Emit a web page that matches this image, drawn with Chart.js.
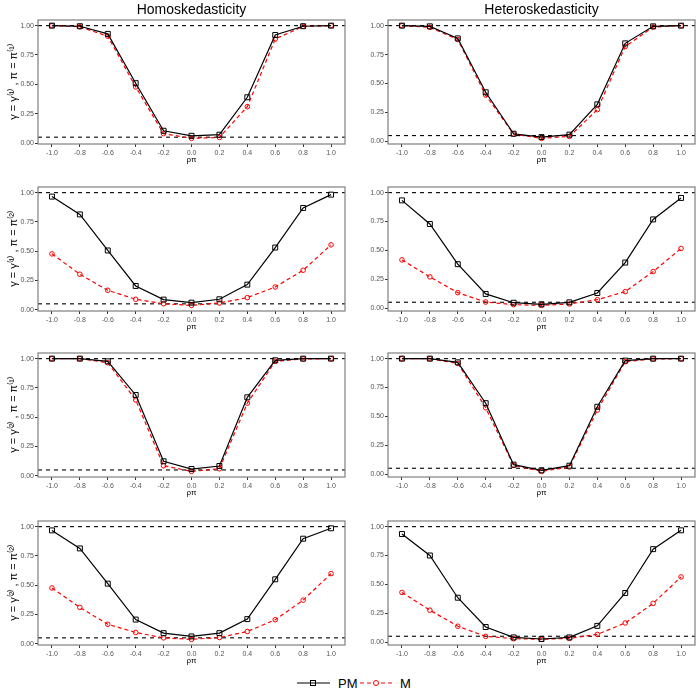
<!DOCTYPE html>
<html>
<head>
<meta charset="utf-8">
<script src="https://cdn.jsdelivr.net/npm/chart.js@4.4.0/dist/chart.umd.min.js"></script>
<style>
  body { margin: 0; background: #fff; }
  #wrap { position: relative; width: 700px; height: 700px; font-family: "Liberation Sans", Arial, sans-serif; }
  #wrap canvas { position: absolute; }
  #legend { position: absolute; left: 290px; top: 671px; }
</style>
</head>
<body>
<div id="wrap">
  <svg id="legend" width="130" height="24">
    <line x1="7" y1="12" x2="40" y2="12" stroke="#000" stroke-width="1.2"/>
    <rect x="20.5" y="9.5" width="5" height="5" fill="none" stroke="#000" stroke-width="1"/>
    <text x="48" y="17" font-size="13" font-family="Liberation Sans, Arial, sans-serif">PM</text>
    <line x1="70" y1="12" x2="102" y2="12" stroke="#ff0000" stroke-width="1.2" stroke-dasharray="4,3"/>
    <circle cx="86" cy="12" r="2.5" fill="#fff" stroke="#ff0000" stroke-width="1"/>
    <text x="110" y="17" font-size="13" font-family="Liberation Sans, Arial, sans-serif">M</text>
  </svg>
</div>
<script>
const rho = [-1.0, -0.8, -0.6, -0.4, -0.2, 0.0, 0.2, 0.4, 0.6, 0.8, 1.0];
const xTicks = [-1.0, -0.8, -0.6, -0.4, -0.2, 0.0, 0.2, 0.4, 0.6, 0.8, 1.0];
const yTicks = [0, 0.25, 0.5, 0.75, 1.0];
const refLines = [0.05, 1.0];

const columnTitles = ['Homoskedasticity', 'Heteroskedasticity'];
const rowLabels = [
  'γ = γ⁽¹⁾ , π = π⁽¹⁾',
  'γ = γ⁽¹⁾ , π = π⁽²⁾',
  'γ = γ⁽²⁾ , π = π⁽¹⁾',
  'γ = γ⁽²⁾ , π = π⁽²⁾'
];

// gamma(1), pi(1)
const pmHomo11 = [1.00, 0.995, 0.93, 0.51, 0.105, 0.062, 0.071, 0.39, 0.92, 0.995, 1.00];
const mHomo11  = [1.00, 0.99, 0.91, 0.478, 0.08, 0.04, 0.048, 0.31, 0.886, 0.994, 1.00];
const pmHet11  = [1.00, 0.994, 0.89, 0.424, 0.066, 0.037, 0.058, 0.32, 0.847, 0.994, 1.00];
const mHet11   = [1.00, 0.985, 0.88, 0.40, 0.063, 0.026, 0.043, 0.274, 0.82, 0.988, 1.00];
// gamma(1), pi(2)
const pmHomo12 = [0.966, 0.814, 0.506, 0.203, 0.086, 0.06, 0.089, 0.214, 0.531, 0.869, 0.983];
const mHomo12  = [0.477, 0.303, 0.166, 0.089, 0.051, 0.037, 0.057, 0.103, 0.194, 0.337, 0.554];
const pmHet12  = [0.933, 0.728, 0.38, 0.122, 0.046, 0.032, 0.049, 0.13, 0.394, 0.768, 0.954];
const mHet12   = [0.417, 0.27, 0.133, 0.052, 0.029, 0.023, 0.035, 0.072, 0.142, 0.316, 0.516];
// gamma(2), pi(1)
const pmHomo21 = [1.00, 1.00, 0.977, 0.69, 0.124, 0.058, 0.084, 0.67, 0.986, 1.00, 1.00];
const mHomo21  = [1.00, 1.00, 0.965, 0.648, 0.086, 0.038, 0.06, 0.62, 0.977, 0.997, 1.00];
const pmHet21  = [1.00, 1.00, 0.968, 0.614, 0.081, 0.032, 0.072, 0.583, 0.983, 1.00, 1.00];
const mHet21   = [1.00, 0.999, 0.959, 0.574, 0.075, 0.023, 0.061, 0.554, 0.974, 0.997, 1.00];
// gamma(2), pi(2)
const pmHomo22 = [0.968, 0.814, 0.513, 0.206, 0.09, 0.062, 0.09, 0.21, 0.55, 0.897, 0.986];
const mHomo22  = [0.476, 0.31, 0.166, 0.096, 0.05, 0.037, 0.053, 0.104, 0.205, 0.372, 0.599];
const pmHet22  = [0.936, 0.75, 0.384, 0.13, 0.04, 0.026, 0.04, 0.14, 0.425, 0.805, 0.968];
const mHet22   = [0.43, 0.276, 0.137, 0.049, 0.029, 0.023, 0.032, 0.066, 0.165, 0.335, 0.564];

const panels = [
  [pmHomo11, mHomo11], [pmHet11, mHet11],
  [pmHomo12, mHomo12], [pmHet12, mHet12],
  [pmHomo21, mHomo21], [pmHet21, mHet21],
  [pmHomo22, mHomo22], [pmHet22, mHet22]
];

const FONT = '"Liberation Sans", Arial, sans-serif';
const plotTops = [20, 187, 353, 521];

const panelFrame = {
  id: 'panelFrame',
  beforeDatasetsDraw(chart) {
    const { ctx, chartArea: a, scales: { y } } = chart;
    ctx.save();
    ctx.strokeStyle = '#000';
    ctx.lineWidth = 1.1;
    ctx.setLineDash([4, 4]);
    refLines.forEach(v => {
      const py = y.getPixelForValue(v);
      ctx.beginPath();
      ctx.moveTo(a.left, py);
      ctx.lineTo(a.right, py);
      ctx.stroke();
    });
    ctx.restore();
  },
  afterDraw(chart) {
    const { ctx, chartArea: a } = chart;
    ctx.save();
    ctx.strokeStyle = '#7f7f7f';
    ctx.lineWidth = 1.2;
    ctx.strokeRect(a.left, a.top, a.right - a.left, a.bottom - a.top);
    ctx.restore();
  }
};

const wrap = document.getElementById('wrap');

panels.forEach((pair, i) => {
  const row = Math.floor(i / 2), col = i % 2;
  const canvas = document.createElement('canvas');
  canvas.width = 350;
  canvas.height = 167;
  canvas.style.left = (col * 350) + 'px';
  canvas.style.top = (plotTops[row] - 20) + 'px';
  wrap.appendChild(canvas);

  const [pm, m] = pair;
  const lo = Math.min(...pm, ...m, 0.05);
  const hi = Math.max(...pm, ...m, 1.0);
  const span = hi - lo;

  new Chart(canvas.getContext('2d'), {
    type: 'line',
    data: {
      datasets: [
        {
          label: 'PM',
          data: rho.map((x, k) => ({ x, y: pm[k] })),
          borderColor: '#000',
          borderWidth: 1.2,
          pointStyle: 'rect',
          pointRadius: 3.5,
          pointBorderWidth: 1,
          pointBackgroundColor: 'rgba(0,0,0,0)',
          pointBorderColor: '#000',
          tension: 0
        },
        {
          label: 'M',
          data: rho.map((x, k) => ({ x, y: m[k] })),
          borderColor: '#ff0000',
          borderWidth: 1.2,
          borderDash: [4, 3],
          pointStyle: 'circle',
          pointRadius: 2.3,
          pointBorderWidth: 1,
          pointBackgroundColor: 'rgba(0,0,0,0)',
          pointBorderColor: '#ff0000',
          tension: 0
        }
      ]
    },
    options: {
      responsive: false,
      animation: false,
      layout: { padding: { top: row === 0 ? 0 : 20, right: 5, left: 0, bottom: 0 } },
      scales: {
        x: {
          type: 'linear',
          min: -1.1,
          max: 1.1,
          afterBuildTicks: s => { s.ticks = xTicks.map(v => ({ value: v })); },
          afterFit: s => { s.height = 23; },
          grid: { drawOnChartArea: false, drawTicks: true, tickLength: 3, color: '#333' },
          border: { display: false },
          ticks: {
            padding: 2,
            maxRotation: 0,
            color: '#555',
            font: { family: FONT, size: 7 },
            callback: v => v.toFixed(1)
          },
          title: {
            display: true,
            text: 'ρπ',
            color: '#000',
            padding: { top: 0, bottom: 2 },
            font: { family: FONT, size: 8 }
          }
        },
        y: {
          min: lo - 0.05 * span,
          max: hi + 0.05 * span,
          afterBuildTicks: s => { s.ticks = yTicks.map(v => ({ value: v })); },
          afterFit: s => { s.width = 38; },
          grid: { drawOnChartArea: false, drawTicks: true, tickLength: 3, color: '#333' },
          border: { display: false },
          ticks: {
            padding: 1,
            color: '#555',
            font: { family: FONT, size: 7 },
            callback: v => v.toFixed(2)
          },
          title: {
            display: col === 0,
            text: rowLabels[row],
            color: '#000',
            padding: { top: 7, bottom: 0 },
            font: { family: FONT, size: 11 }
          }
        }
      },
      plugins: {
        legend: { display: false },
        tooltip: { enabled: false },
        title: {
          display: row === 0,
          text: columnTitles[col],
          fullSize: false,
          color: '#000',
          padding: { top: 2, bottom: 1.2 },
          font: { family: FONT, size: 14, weight: 'normal' }
        }
      }
    },
    plugins: [panelFrame]
  });
});
</script>
</body>
</html>
